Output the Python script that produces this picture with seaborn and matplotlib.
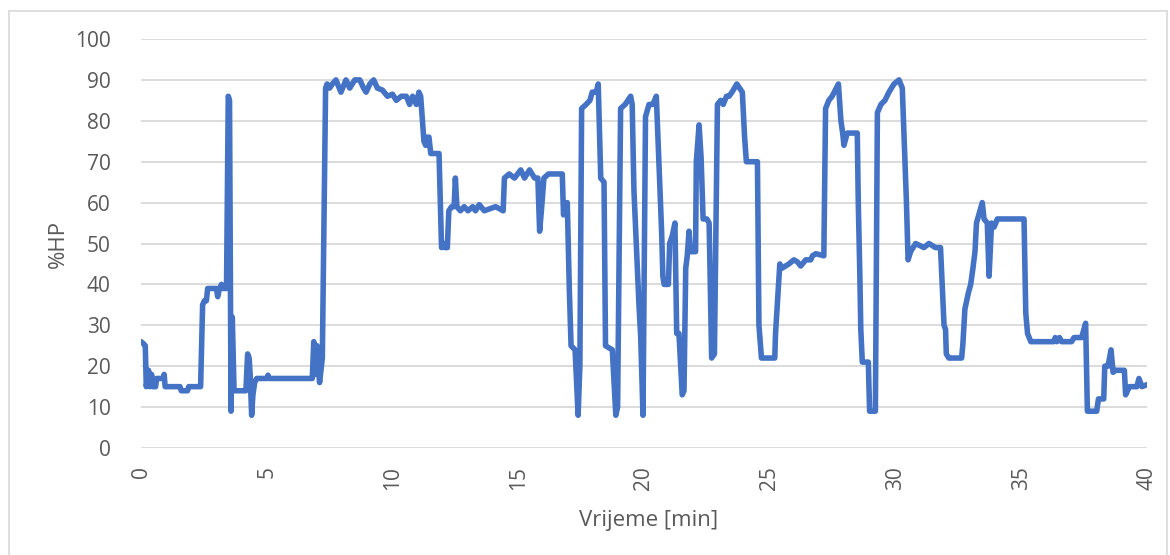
import numpy as np
import pandas as pd
import matplotlib
matplotlib.use('Agg')
import matplotlib.pyplot as plt
from matplotlib.patches import Rectangle
import seaborn as sns

# time (min) and load (%HP)
vrijeme = [
    0.00, 0.10, 0.17, 0.21, 0.30, 0.36, 0.42, 0.47, 0.58, 0.62, 0.88, 0.92, 0.96,
    1.55, 1.60, 1.85, 1.90, 2.37, 2.45, 2.52, 2.60, 2.65, 3.00, 3.05, 3.12, 3.20,
    3.25, 3.40, 3.47, 3.52, 3.58, 3.63, 3.70, 3.75, 4.17, 4.24, 4.30, 4.34, 4.40,
    4.45, 4.52, 4.60, 5.00, 5.05, 5.10, 6.81, 6.87, 6.94, 7.00, 7.10, 7.21, 7.34,
    7.40, 7.50, 7.61, 7.75, 7.95, 8.15, 8.30, 8.50, 8.70, 8.85, 8.95, 9.10, 9.25,
    9.40, 9.60, 9.80, 10.00, 10.15, 10.35, 10.55, 10.68, 10.80, 10.95, 11.05, 11.12,
    11.25, 11.32, 11.39, 11.45, 11.52, 11.85, 11.95, 12.05, 12.10, 12.18, 12.24,
    12.35, 12.45, 12.50, 12.56, 12.70, 12.85, 13.00, 13.19, 13.30, 13.45, 13.65,
    14.10, 14.40, 14.45, 14.64, 14.85, 15.10, 15.25, 15.45, 15.65, 15.78, 15.85,
    15.92, 16.02, 16.20, 16.75, 16.80, 16.95, 17.03, 17.10, 17.26, 17.38, 17.45,
    17.52, 17.70, 17.85, 17.94, 18.10, 18.18, 18.28, 18.41, 18.47, 18.74, 18.88,
    18.95, 19.07, 19.25, 19.47, 19.53, 19.60, 19.80, 19.87, 19.96, 20.06, 20.20,
    20.35, 20.49, 20.66, 20.70, 20.75, 20.80, 20.97, 21.02, 21.13, 21.23, 21.30,
    21.39, 21.52, 21.59, 21.66, 21.72, 21.79, 21.85, 22.05, 22.08, 22.19, 22.27,
    22.35, 22.50, 22.59, 22.69, 22.80, 22.92, 23.05, 23.15, 23.28, 23.38, 23.50,
    23.69, 23.91, 24.00, 24.07, 24.30, 24.51, 24.57, 24.67, 25.20, 25.23, 25.30,
    25.40, 25.50, 25.76, 25.96, 26.10, 26.23, 26.43, 26.63, 26.70, 26.83, 27.15,
    27.22, 27.35, 27.48, 27.73, 27.83, 27.90, 27.95, 28.08, 28.48, 28.52, 28.58,
    28.62, 28.68, 28.92, 28.97, 29.20, 29.28, 29.42, 29.58, 29.74, 29.94, 30.14,
    30.27, 30.43, 30.50, 30.60, 30.80, 31.13, 31.33, 31.59, 31.79, 31.93, 31.99,
    32.02, 32.12, 32.63, 32.68, 32.76, 32.90, 32.99, 33.08, 33.16, 33.22, 33.45,
    33.52, 33.65, 33.72, 33.82, 33.92, 34.05, 35.11, 35.18, 35.25, 35.38, 36.30,
    36.35, 36.42, 36.52, 36.60, 37.00, 37.10, 37.40, 37.56, 37.63, 38.00, 38.07,
    38.28, 38.32, 38.45, 38.57, 38.65, 38.75, 39.10, 39.15, 39.30, 39.60, 39.68,
    39.80, 40.00,
]
hp = [
    26, 25.5, 25, 15, 19, 15, 18, 15, 15, 17, 17, 18, 15,
    15, 14, 14, 15, 15, 35, 36, 36, 39, 39, 37, 39, 40,
    39, 39, 86, 85, 9, 32, 14, 14, 14, 23, 22, 18, 8,
    13, 16, 17, 17, 17.8, 17, 17, 26, 18, 25, 16, 22, 88,
    89, 88, 89, 90, 87, 90, 88, 90, 90, 88, 87, 89, 90,
    88, 87.5, 86, 86.5, 85, 86, 86, 84, 86, 84, 87, 86,
    75, 74, 76, 76, 72, 72, 49, 50, 49, 49, 58,
    59, 59, 66, 59, 58, 59, 58, 59, 58, 59.5, 58,
    59, 58, 66, 67, 66, 68, 66, 68, 66, 66, 53,
    58, 66, 67, 67, 57, 60, 39, 25, 24, 8, 20,
    83, 84, 85, 87, 87, 89, 66, 65, 25, 24, 8,
    10, 83, 84, 86, 84, 63, 35, 27, 8, 81, 84,
    84, 86, 59, 53, 42, 40, 40, 50, 52, 55, 28,
    28, 13, 14, 44, 47, 53, 48, 48, 70, 79, 71,
    56, 56, 55, 22, 23, 84, 85, 84, 86, 86, 87,
    89, 87, 76, 70, 70, 70, 30, 22, 22, 28, 35,
    45, 44, 45, 46, 45.5, 44.5, 46, 46, 47, 47.5, 47,
    83, 85, 86, 89, 80, 77, 74, 77, 77, 60, 43,
    29, 21, 21, 9, 9, 82, 84, 85, 87, 89, 90,
    88, 61, 46, 48, 50, 49, 50, 49, 49, 30, 29,
    23, 22, 22, 25.5, 34, 38, 40, 44, 48, 55, 60,
    56, 55, 42, 55, 54, 56, 56, 33, 28, 26, 26,
    27, 26, 27, 26, 26, 27, 27, 30.5, 9, 9, 12,
    12, 20, 20, 24, 18.5, 19, 19, 13, 15, 15, 17,
    15, 15.5,
]

y_ticks = list(range(0, 101, 10))
x_ticks = list(range(0, 41, 5))

df = pd.DataFrame({'Vrijeme': vrijeme, 'HP': hp})

sns.set_style('whitegrid')
plt.rcParams['font.family'] = ['Open Sans', 'DejaVu Sans']
grey = '#595959'

fig = plt.figure(figsize=(11.7, 5.55), dpi=100)
ax = fig.add_axes([141 / 1170, 107 / 555, 1006 / 1170, 409 / 555])

sns.lineplot(data=df, x='Vrijeme', y='HP', ax=ax, sort=False, estimator=None,
             color='#4472C4', linewidth=4.0, solid_capstyle='round',
             solid_joinstyle='round')

ax.set_xlim(0, 40)
ax.set_ylim(0, 100)
ax.set_xticks(x_ticks)
ax.set_yticks(y_ticks)
ax.grid(axis='x', visible=False)
ax.grid(axis='y', color='#d9d9d9', linewidth=1.3)
for s in ax.spines.values():
    s.set_visible(False)

ax.tick_params(axis='both', length=0, labelsize=15, colors=grey)
ax.tick_params(axis='y', pad=22)
ax.tick_params(axis='x', pad=13, labelrotation=90)

ax.set_xlabel('Vrijeme [min]', fontsize=16, color=grey, va='center')
ax.set_ylabel('%HP', fontsize=16, color=grey, va='center', ha='center')
ax.xaxis.set_label_coords(0.505, -0.178)
ax.yaxis.set_label_coords(-0.082, 0.5)

# thin chart-area frame like the original
fig.patches.append(Rectangle((8.5 / 1170, -0.02), 1158 / 1170, (555 - 10.5) / 555 + 0.02,
                             transform=fig.transFigure, fill=False,
                             edgecolor='#d9d9d9', linewidth=1.2))

fig.savefig('out.png', dpi=100)
